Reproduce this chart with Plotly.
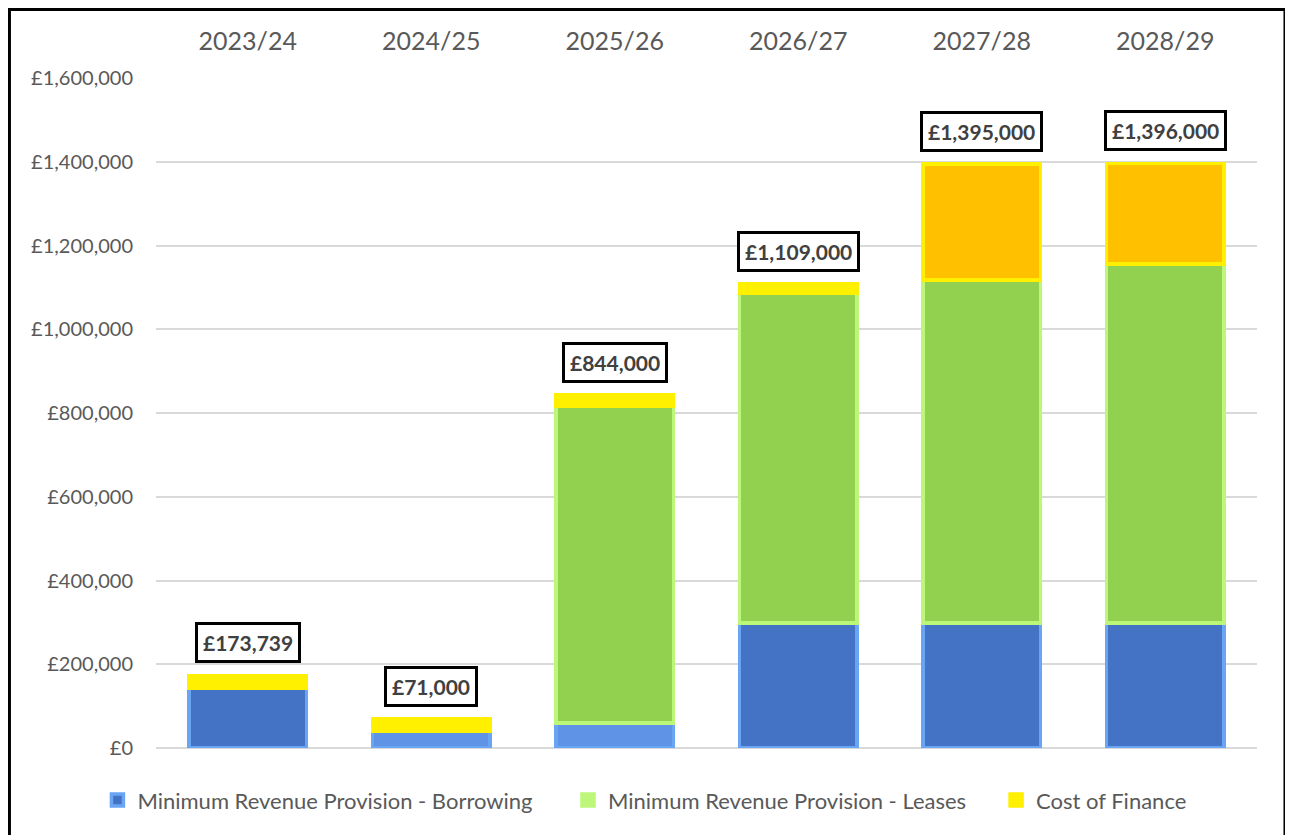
"""
Stacked bar chart: revenue cost of borrowing, leases and finance, 2023/24 to 2028/29.
"""
import plotly.graph_objects as go

years = ['2023/24', '2024/25', '2025/26', '2026/27', '2027/28', '2028/29']
mrp_borrowing = [143500, 40000, 60000, 298000, 298000, 298000]
mrp_leases = [0, 0, 756000, 788000, 820000, 858000]
cost_of_finance = [30239, 29000, 28000, 23000, 277000, 240000]
total_labels = ['£173,739', '£71,000', '£844,000', '£1,109,000', '£1,395,000', '£1,396,000']
y_ticks = [0, 200000, 400000, 600000, 800000, 1000000, 1200000, 1400000, 1600000]

FONT = 'Lato'
GREY = '#595959'

fig = go.Figure()

# Séries empilhadas (borda clara imitando o bisel do Excel)
# segmentos finos ficam só com a cor da borda, como no original
series = [
    ('Minimum Revenue Provision - Borrowing', mrp_borrowing, '#4472C4', '#6AA5F5', '#5E93E6', 'legend'),
    ('Minimum Revenue Provision - Leases', mrp_leases, '#92D050', '#BDF77A', '#BDF77A', 'legend2'),
    ('Cost of Finance', cost_of_finance, '#FFC000', '#FFF000', '#FFF000', 'legend3'),
]
for name, values, fill, edge, thin, leg in series:
    colors = [fill if v > 100000 else thin for v in values]
    fig.add_trace(
        go.Bar(
            x=years,
            y=values,
            name=name,
            legend=leg,
            showlegend=True,
            marker=dict(color=colors, line=dict(color=edge, width=3.5)),
        )
    )

# Totais em caixas acima das barras
totals = [a + b + c for a, b, c in zip(mrp_borrowing, mrp_leases, cost_of_finance)]
for year, total, label in zip(years, totals, total_labels):
    fig.add_annotation(
        x=year, y=total,
        text='<b>' + label + '</b>',
        showarrow=False,
        yanchor='bottom', yshift=12,
        font=dict(family=FONT, size=21, color='#404040'),
        bgcolor='white', bordercolor='black', borderwidth=3, borderpad=5,
    )

# Moldura externa do gráfico
fig.add_shape(
    type='rect', xref='paper', yref='paper',
    x0=-0.1331, x1=1.0254, y0=-0.14, y1=1.1022,
    line=dict(color='black', width=3), layer='above',
)

# Uma legenda por série para reproduzir o espaçamento original
leg_style = dict(
    orientation='h', xanchor='left',
    y=-0.078, yanchor='middle',
    font=dict(family=FONT, size=22, color=GREY),
    itemwidth=30,
)

fig.update_layout(
    width=1285, height=827,
    margin=dict(l=148, r=36, t=70, b=87),
    barmode='stack',
    bargap=0.36,
    showlegend=True,
    plot_bgcolor='white',
    paper_bgcolor='white',
    font=dict(family=FONT, color=GREY),
    legend=dict(x=-0.0532, **leg_style),
    legend2=dict(x=0.3742, **leg_style),
    legend3=dict(x=0.7630, **leg_style),
)

fig.update_xaxes(
    side='top',
    showgrid=False, showline=False, ticks='',
    tickfont=dict(family=FONT, size=25, color=GREY),
    ticklabelstandoff=22,
)

fig.update_yaxes(
    range=[0, 1600000],
    tickvals=y_ticks,
    ticktext=['£{:,}'.format(v) for v in y_ticks],
    showgrid=True, gridcolor='#D9D9D9', gridwidth=2,
    zeroline=True, zerolinecolor='#D9D9D9', zerolinewidth=2,
    showline=False, ticks='',
    tickfont=dict(family=FONT, size=20, color=GREY),
    ticklabelstandoff=22,
)

fig.write_html("out.html")
